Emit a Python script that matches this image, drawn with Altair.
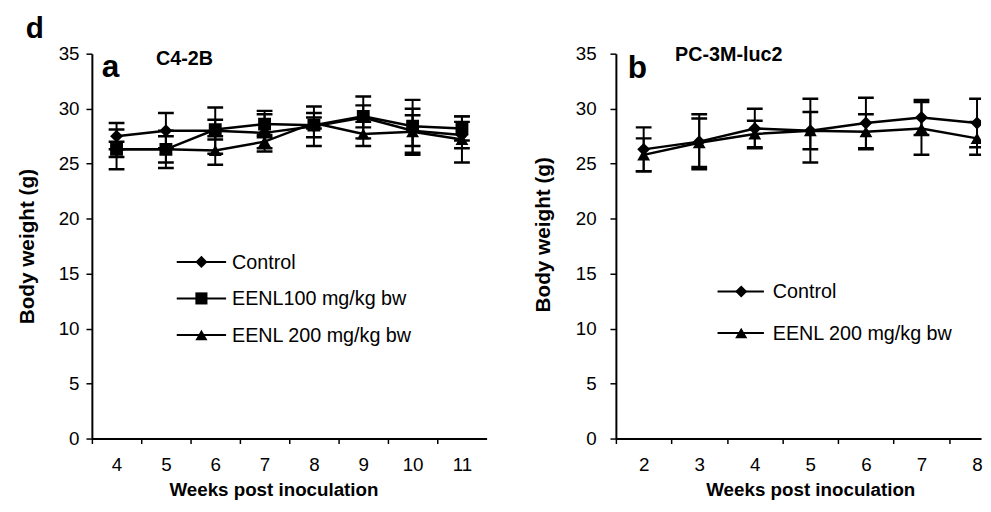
import altair as alt
import pandas as pd

FONT = "Liberation Sans"

# ---------------- Panel a : C4-2B ----------------
weeks_a = [4, 5, 6, 7, 8, 9, 10, 11]
series_a = ["Control", "EENL100 mg/kg bw", "EENL 200 mg/kg bw"]
shapes_a = ["diamond", "square", "triangle-up"]
control_a = [27.5, 28.0, 28.0, 27.8, 28.4, 29.2, 28.0, 27.6]
control_a_err = [1.2, 1.6, 2.1, 1.7, 1.8, 1.9, 1.4, 1.2]
eenl100_a = [26.3, 26.3, 28.1, 28.6, 28.5, 29.3, 28.4, 28.2]
eenl100_a_err = [1.8, 1.7, 0.9, 1.2, 1.1, 1.0, 2.4, 1.1]
eenl200_a = [26.3, 26.3, 26.2, 27.0, 28.7, 27.7, 27.9, 27.2]
eenl200_a_err = [0.7, 1.2, 1.3, 0.6, 0.5, 1.1, 2.1, 2.1]

# ---------------- Panel b : PC-3M-luc2 ----------------
weeks_b = [2, 3, 4, 5, 6, 7, 8]
series_b = ["Control", "EENL 200 mg/kg bw"]
shapes_b = ["diamond", "triangle-up"]
control_b = [26.3, 27.0, 28.2, 28.0, 28.7, 29.2, 28.7]
control_b_err = [2.0, 2.5, 1.8, 2.9, 2.3, 1.6, 2.2]
eenl200_b = [25.8, 26.9, 27.7, 28.0, 27.9, 28.2, 27.3]
eenl200_b_err = [1.5, 2.2, 1.2, 1.7, 1.6, 2.4, 1.5]

y_ticks = [0, 5, 10, 15, 20, 25, 30, 35]


def long_df(weeks, names, means, errs):
    rows = []
    for name, m, e in zip(names, means, errs):
        for w, mv, ev in zip(weeks, m, e):
            rows.append({"week": w, "series": name, "mean": mv, "err": ev})
    return pd.DataFrame(rows)


df_a = long_df(weeks_a, series_a, [control_a, eenl100_a, eenl200_a],
               [control_a_err, eenl100_a_err, eenl200_a_err])
df_b = long_df(weeks_b, series_b, [control_b, eenl200_b],
               [control_b_err, eenl200_b_err])


def panel(df, weeks, names, shapes, domain, width, band, xtitle_x,
          ytitle_pad, ylabel_pad, ytitle_y, legend_pos, label_letter,
          letter_pos, cell_name, cell_pos, extra_texts):
    x_axis = alt.Axis(values=weeks, tickOffset=-band / 2, labelOffset=band / 2,
                      title="Weeks post inoculation", titleX=xtitle_x,
                      tickSize=5, labelPadding=12, titlePadding=7,
                      titleFontSize=19, labelFontSize=19)
    y_axis = alt.Axis(values=y_ticks, title="Body  weight (g)",
                      tickSize=6, labelPadding=ylabel_pad,
                      titlePadding=ytitle_pad, titleFontSize=21,
                      labelFontSize=19, titleY=ytitle_y)
    xs = alt.Scale(domain=domain, nice=False, zero=False)
    ys = alt.Scale(domain=[0, 35], nice=False)

    def X():
        return alt.X("week:Q", scale=xs, axis=x_axis)

    def Y(f):
        return alt.Y(f + ":Q", scale=ys, axis=y_axis)

    base = alt.Chart(df).transform_calculate(
        lo="datum.mean - datum.err", hi="datum.mean + datum.err")

    lines = base.mark_line(color="black", strokeWidth=2.5, clip=True).encode(
        x=X(), y=Y("mean"), detail="series:N")
    bars = base.mark_rule(color="black", strokeWidth=2, clip=True).encode(
        x=X(), y=Y("lo"), y2="hi:Q")
    cap_lo = base.mark_tick(color="black", orient="horizontal", size=16,
                            thickness=2.5, clip=True, opacity=1).encode(
        x=X(), y=Y("lo"))
    cap_hi = base.mark_tick(color="black", orient="horizontal", size=16,
                            thickness=2.5, clip=True, opacity=1).encode(
        x=X(), y=Y("hi"))
    pts = base.mark_point(filled=True, color="black", opacity=1, size=170,
                          clip=True).encode(
        x=X(), y=Y("mean"),
        shape=alt.Shape("series:N", scale=alt.Scale(domain=names, range=shapes),
                        legend=None))

    layers = [lines, bars, cap_lo, cap_hi, pts]

    # legend drawn by hand
    lx0, lx1, lsym, ltxt, ly0, ldy = legend_pos
    for i, (name, shp) in enumerate(zip(names, shapes)):
        ldf = alt.Chart(pd.DataFrame({"series": [name]}))
        yy = ly0 + i * ldy
        layers.append(ldf.mark_rule(color="black", strokeWidth=2).encode(
            x=alt.value(lx0), x2=alt.value(lx1), y=alt.value(yy)))
        layers.append(ldf.mark_point(filled=True, color="black", opacity=1,
                                     size=150, shape=shp).encode(
            x=alt.value(lsym), y=alt.value(yy)))
        layers.append(ldf.mark_text(align="left", baseline="middle",
                                    font=FONT, fontSize=20,
                                    color="black").encode(
            x=alt.value(ltxt), y=alt.value(yy + 1), text="series:N"))

    tdf = alt.Chart(pd.DataFrame({"t": [label_letter]}))
    layers.append(tdf.mark_text(align="left", baseline="alphabetic", font=FONT,
                                fontSize=32, fontWeight="bold",
                                color="black").encode(
        x=alt.value(letter_pos[0]), y=alt.value(letter_pos[1]), text="t:N"))
    cdf = alt.Chart(pd.DataFrame({"t": [cell_name]}))
    layers.append(cdf.mark_text(align="left", baseline="alphabetic", font=FONT,
                                fontSize=20, fontWeight="bold",
                                color="black").encode(
        x=alt.value(cell_pos[0]), y=alt.value(cell_pos[1]), text="t:N"))
    for txt, pos, fs in extra_texts:
        edf = alt.Chart(pd.DataFrame({"t": [txt]}))
        layers.append(edf.mark_text(align="left", baseline="alphabetic",
                                    font=FONT, fontSize=fs, fontWeight="bold",
                                    color="black").encode(
            x=alt.value(pos[0]), y=alt.value(pos[1]), text="t:N"))

    return alt.layer(*layers).properties(width=width, height=390)


left = panel(df_a, weeks_a, series_a, shapes_a, [3.5, 11.5], 400, 50,
             184, 21, 7, 195, (86, 136, 111, 142, 211, 37), "a", (10, 24),
             "C4-2B", (65, 11), [("d", (-67, -16), 30)])
right = panel(df_b, weeks_b, series_b, shapes_b, [1.5, 8.072], 370, 56.3,
              197, 22, 14, 183, (103, 150, 127, 159, 241, 42), "b", (12, 25),
              "PC-3M-luc2", (60, 7), [])

chart = alt.hconcat(left, right, spacing=46).properties(
    padding={"left": 8, "top": 3, "right": 0, "bottom": 0}
).configure_view(stroke=None).configure_axis(
    domainColor="black", domainWidth=2, tickColor="black", tickWidth=1.5,
    labelColor="black", titleColor="black", labelFont=FONT, titleFont=FONT,
    titleFontWeight="bold", grid=False
)

chart.save("out.html", embed_options={"renderer": "svg", "actions": False})
